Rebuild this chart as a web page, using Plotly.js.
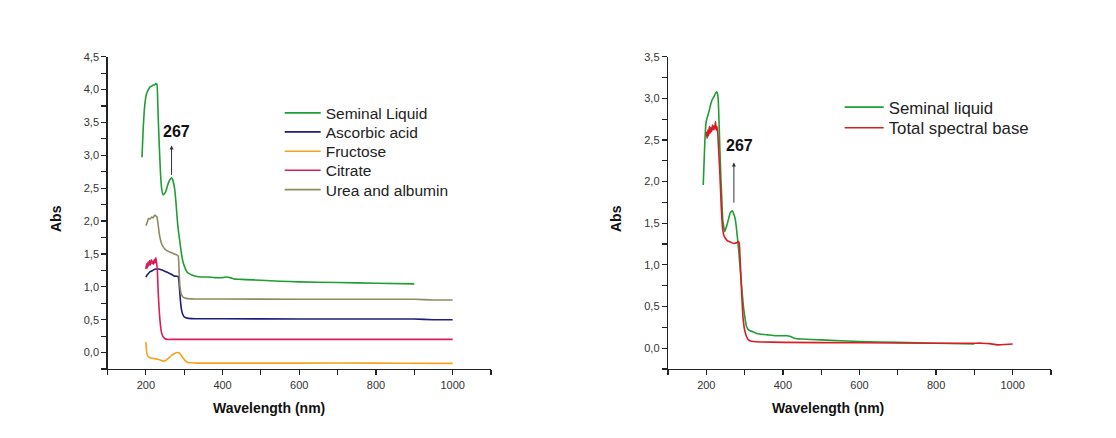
<!DOCTYPE html>
<html>
<head>
<meta charset="utf-8">
<script src="https://cdn.plot.ly/plotly-3.0.1.min.js"></script>
<style>html,body{margin:0;padding:0;background:#fff;}#chart{width:1116px;height:438px;}</style>
</head>
<body>
<div id="chart"></div>
<script>
// ---- Left panel data (wavelength nm, absorbance) ----
var wlSeminal = [190,193,196,199,202,206,211,215,219,223,226,229,231,233,235,238,241,245,249,253,257,261,264,267,270,273,276,279,283,287,291,296,300,304,308,313,320,330,345,360,380,400,410,420,430,440,460,500,550,600,700,800,900];
var absSeminal = [2.97,3.40,3.69,3.85,3.94,3.99,4.04,4.05,4.07,4.07,4.09,4.08,3.80,3.45,3.15,2.75,2.50,2.40,2.42,2.47,2.55,2.61,2.64,2.66,2.63,2.56,2.45,2.25,1.95,1.76,1.58,1.40,1.32,1.26,1.22,1.20,1.18,1.16,1.15,1.15,1.14,1.14,1.15,1.14,1.12,1.115,1.11,1.10,1.085,1.075,1.065,1.055,1.045];

var wlAscorbic = [200,205,211,218,225,232,240,248,256,264,272,280,284,286,288,290,292,295,299,304,312,330,400,600,800,900,950,1000];
var absAscorbic = [1.15,1.19,1.23,1.25,1.27,1.27,1.26,1.24,1.22,1.20,1.17,1.16,1.16,1.10,0.95,0.80,0.69,0.60,0.55,0.53,0.52,0.515,0.515,0.51,0.51,0.51,0.50,0.50];

var wlFructose = [200,201,203,206,211,220,228,236,245,252,260,268,276,283,288,293,298,304,310,318,330,400,600,800,950,1000];
var absFructose = [0.16,0.08,-0.02,-0.06,-0.08,-0.09,-0.10,-0.11,-0.13,-0.12,-0.08,-0.04,-0.01,0.00,-0.01,-0.05,-0.09,-0.13,-0.15,-0.155,-0.16,-0.16,-0.16,-0.16,-0.165,-0.165];

var wlCitrate = [200,202,204,206,208,210,212,214,216,218,220,222,224,226,228,230,232,234,236,238,241,245,250,256,270,400,600,800,1000];
var absCitrate = [1.27,1.35,1.29,1.38,1.32,1.40,1.33,1.41,1.36,1.39,1.34,1.42,1.36,1.44,1.37,1.25,0.95,0.72,0.55,0.42,0.30,0.24,0.21,0.20,0.20,0.20,0.20,0.20,0.20];

var wlUrea = [200,203,207,211,215,219,223,226,229,232,235,238,242,246,250,255,262,270,278,283,285,287,289,292,296,302,310,330,400,600,800,900,950,1000];
var absUrea = [1.93,1.97,2.04,2.03,2.06,2.05,2.09,2.08,2.06,1.95,1.81,1.72,1.64,1.60,1.57,1.55,1.53,1.51,1.49,1.48,1.45,1.20,1.00,0.90,0.85,0.83,0.82,0.815,0.815,0.81,0.81,0.81,0.80,0.80];

// ---- Right panel data ----
var wlSeminal2 = [192,196,199,203,207,211,215,220,224,228,231,233,235,238,240,243,248,254,258,262,265,268,271,275,278,281,285,288,292,297,301,305,310,314,320,330,340,360,380,400,410,420,430,450,500,600,700,800,900];
var absSeminal2 = [1.96,2.46,2.70,2.78,2.84,2.92,2.98,3.02,3.06,3.08,3.00,2.75,2.46,2.05,1.85,1.54,1.40,1.48,1.55,1.62,1.64,1.65,1.62,1.56,1.47,1.34,1.15,0.98,0.75,0.50,0.36,0.26,0.22,0.21,0.20,0.18,0.17,0.16,0.15,0.15,0.15,0.14,0.12,0.11,0.10,0.08,0.07,0.06,0.05];

var wlBase = [200,202,204,206,208,210,212,214,216,218,220,222,224,226,228,230,232,235,239,243,247,250,255,260,265,270,275,280,284,286,288,290,293,296,300,305,310,316,323,340,400,600,800,900,920,940,960,980,1000];
var absBase = [2.60,2.52,2.62,2.55,2.66,2.58,2.65,2.60,2.68,2.62,2.67,2.63,2.72,2.62,2.66,2.58,2.40,2.14,1.70,1.42,1.34,1.32,1.29,1.28,1.27,1.26,1.26,1.27,1.28,1.26,1.10,0.90,0.60,0.36,0.22,0.14,0.10,0.085,0.08,0.075,0.07,0.065,0.06,0.06,0.06,0.055,0.04,0.045,0.05];

// peak annotation
var peakLabel = "267";
var peakWl = 267;

var FONT = "Liberation Sans, Arial, sans-serif";

function tr(x, y, name, color, xa, ya, leg) {
  return {x: x, y: y, name: name, type: "scatter", mode: "lines",
    line: {color: color, width: 1.6, shape: "spline", smoothing: 0.4},
    xaxis: xa, yaxis: ya, legend: leg};
}

var data = [
  tr(wlSeminal, absSeminal, "Seminal Liquid", "#1f9e34", "x", "y", "legend"),
  tr(wlAscorbic, absAscorbic, "Ascorbic acid", "#1e1e7e", "x", "y", "legend2"),
  tr(wlFructose, absFructose, "Fructose", "#f6a21d", "x", "y", "legend3"),
  tr(wlCitrate, absCitrate, "Citrate", "#d81c5c", "x", "y", "legend4"),
  tr(wlUrea, absUrea, "Urea and albumin", "#8e8b60", "x", "y", "legend5"),
  tr(wlSeminal2, absSeminal2, "Seminal liquid", "#1f9e34", "x2", "y2", "legend6"),
  tr(wlBase, absBase, "Total spectral base", "#d81e24", "x2", "y2", "legend7")
];

function xax(domain, anchor) {
  return {domain: domain, anchor: anchor, range: [100, 1100], showgrid: false, zeroline: false,
    showline: true, linecolor: "#222", linewidth: 1.3, ticks: "outside", ticklen: 5, tickwidth: 1.2,
    tickcolor: "#222", tick0: 200, dtick: 200,
    minor: {dtick: 100, tick0: 100, ticks: "outside", ticklen: 5, tickwidth: 1.2, tickcolor: "#222"},
    tickfont: {family: FONT, size: 11, color: "#333"}, fixedrange: true};
}
function yax(domain, anchor, top) {
  return {domain: domain, anchor: anchor, range: [-0.25, top], showgrid: false, zeroline: false,
    showline: true, linecolor: "#222", linewidth: 1.3, ticks: "outside", ticklen: 5, tickwidth: 1.2,
    tickcolor: "#222", tick0: 0, dtick: 0.5, tickformat: ".1f",
    minor: {dtick: 0.25, tick0: 0, ticks: "outside", ticklen: 5, tickwidth: 1.2, tickcolor: "#222"},
    tickfont: {family: FONT, size: 11, color: "#333"}, fixedrange: true};
}

var W = 1116, H = 438;
var yDom = [1 - 369 / H, 1 - 56.7 / H];

function leg(xpx, toppx, size, iw) {
  return {x: xpx / W, y: 1 - toppx / H, xanchor: "left", yanchor: "top", bgcolor: "rgba(0,0,0,0)",
    borderwidth: 0, itemwidth: iw, font: {family: FONT, size: size, color: "#222"}};
}

var layout = {
  width: W, height: H, margin: {l: 0, r: 0, t: 0, b: 0},
  paper_bgcolor: "#fff", plot_bgcolor: "#fff",
  separators: ",.",
  font: {family: FONT},
  xaxis: xax([107.5 / W, 491 / W], "y"),
  yaxis: yax(yDom, "x", 4.5),
  xaxis2: xax([668 / W, 1051 / W], "y2"),
  yaxis2: yax(yDom, "x2", 3.5),
  legend: leg(279.7, 96.3, 15.5, 36),
  legend2: leg(279.7, 115.3, 15.5, 36),
  legend3: leg(279.7, 134.7, 15.5, 36),
  legend4: leg(279.7, 153.7, 15.5, 36),
  legend5: leg(279.7, 173, 15.5, 36),
  legend6: leg(839.7, 89.7, 16.8, 39),
  legend7: leg(839.7, 110.3, 16.8, 39),
  showlegend: true,
  annotations: [
    {xref: "paper", yref: "paper", x: 268.5 / W, y: 1 - 407.7 / H, text: "Wavelength (nm)", showarrow: false,
      font: {family: FONT, size: 14, color: "#111", weight: "bold"}, xanchor: "center", yanchor: "middle"},
    {xref: "paper", yref: "paper", x: 828 / W, y: 1 - 407.7 / H, text: "Wavelength (nm)", showarrow: false,
      font: {family: FONT, size: 14, color: "#111", weight: "bold"}, xanchor: "center", yanchor: "middle"},
    {xref: "paper", yref: "paper", x: 56.7 / W, y: 1 - 218.3 / H, text: "Abs", textangle: -90, showarrow: false,
      font: {family: FONT, size: 14, color: "#111", weight: "bold"}, xanchor: "center", yanchor: "middle"},
    {xref: "paper", yref: "paper", x: 616.7 / W, y: 1 - 218.3 / H, text: "Abs", textangle: -90, showarrow: false,
      font: {family: FONT, size: 14, color: "#111", weight: "bold"}, xanchor: "center", yanchor: "middle"},
    {xref: "x", yref: "y", x: 280, y: 3.36, text: peakLabel, showarrow: false,
      font: {family: FONT, size: 16, color: "#111", weight: "bold"}},
    {xref: "x", yref: "y", x: peakWl, y: 3.15, axref: "x", ayref: "y", ax: peakWl, ay: 2.68, text: "",
      showarrow: true, arrowhead: 2, arrowsize: 0.8, arrowwidth: 1, arrowcolor: "#333"},
    {xref: "x2", yref: "y2", x: 286, y: 2.43, text: peakLabel, showarrow: false,
      font: {family: FONT, size: 16, color: "#111", weight: "bold"}},
    {xref: "x2", yref: "y2", x: 272, y: 2.23, axref: "x2", ayref: "y2", ax: 272, ay: 1.73, text: "",
      showarrow: true, arrowhead: 2, arrowsize: 0.8, arrowwidth: 1, arrowcolor: "#333"}
  ]
};

Plotly.newPlot("chart", data, layout, {staticPlot: true, displayModeBar: false});
</script>
</body>
</html>
